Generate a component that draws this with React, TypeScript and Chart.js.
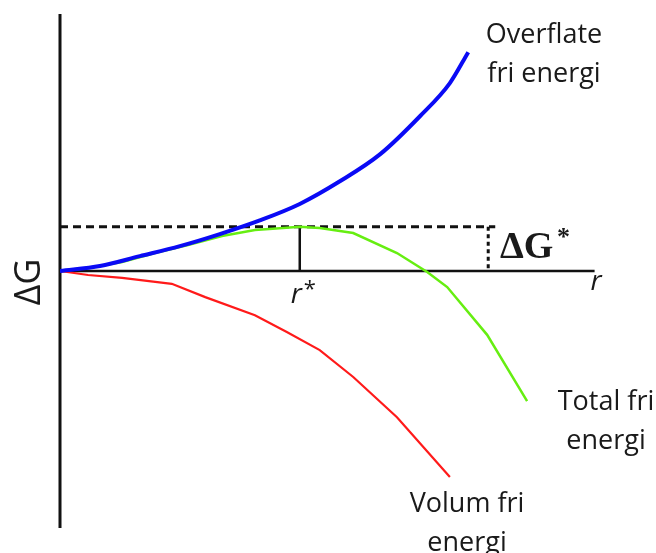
import React, { useEffect, useRef } from "react";
import { Chart, registerables } from "chart.js";

Chart.register(...registerables);

// Radius r (x) and free-energy change ΔG (y) for the three curves
const surfaceR = [0, 0.74, 1.48, 2.22, 2.96, 3.7, 4.44, 5.19, 5.93, 6.67, 7.22, 7.56];
const surfaceG = [0, 0.125, 0.37, 0.62, 0.92, 1.26, 1.67, 2.24, 2.91, 3.86, 4.68, 5.45];

const totalR = [0, 0.52, 1.15, 1.76, 2.37, 3.0, 3.61, 3.94, 4.44, 4.81, 5.43, 6.24, 6.8, 7.17, 7.91, 8.65];
const totalG = [0, 0.075, 0.224, 0.448, 0.647, 0.871, 1.02, 1.05, 1.1, 1.07, 0.946, 0.448, -0.025, -0.4, -1.59, -3.24];

const volumeR = [0, 0.52, 1.15, 2.07, 2.69, 3.61, 4.2, 4.81, 5.43, 6.24, 7.22];
const volumeG = [0, -0.1, -0.17, -0.32, -0.65, -1.1, -1.52, -1.97, -2.64, -3.64, -5.13];

// Critical radius and barrier height
const rStar = 4.44;
const gStar = 1.1;
const barrierEndR = 8.06;
const barrierMarkR = 7.93;
const rAxisEnd = 9.9;

const xRange = [0, 10];
const yRange = [-6.4, 6.4];

const curveLabels = {
  surface: ["Overflate", "fri energi"],
  total: ["Total fri", "energi"],
  volume: ["Volum fri", "energi"],
};
const yTitle = "ΔG";
const xTitle = "r";

const pts = (xs: number[], ys: number[]) => xs.map((x, i) => ({ x, y: ys[i] }));

const SANS = "'Open Sans', 'Noto Sans', sans-serif";
const SERIF = "'Liberation Serif', 'DejaVu Serif', serif";

const axesPlugin = {
  id: "axesAndLabels",
  beforeDatasetsDraw(chart: any) {
    const { ctx, chartArea, scales } = chart;
    const xs = scales.x;
    const ys = scales.y;
    const x0 = xs.getPixelForValue(0);
    const y0 = ys.getPixelForValue(0);
    ctx.save();
    ctx.strokeStyle = "#111";
    ctx.lineCap = "butt";
    // vertical ΔG axis
    ctx.lineWidth = 3;
    ctx.beginPath();
    ctx.moveTo(x0, chartArea.top);
    ctx.lineTo(x0, chartArea.bottom);
    ctx.stroke();
    // horizontal r axis
    ctx.lineWidth = 2.5;
    ctx.beginPath();
    ctx.moveTo(x0, y0);
    ctx.lineTo(xs.getPixelForValue(rAxisEnd), y0);
    ctx.stroke();
    ctx.restore();
  },
  afterDatasetsDraw(chart: any) {
    const { ctx, scales } = chart;
    const xs = scales.x;
    const ys = scales.y;
    const y0 = ys.getPixelForValue(0);
    ctx.save();
    ctx.fillStyle = "#1a1a1a";

    // curve captions
    ctx.font = `27px ${SANS}`;
    ctx.textAlign = "center";
    ctx.textBaseline = "alphabetic";
    const caption = (lines: string[], cx: number, baseline: number) => {
      lines.forEach((t, i) => ctx.fillText(t, cx, baseline + i * 39));
    };
    caption(curveLabels.surface, 544, 43);
    caption(curveLabels.total, 606, 410);
    caption(curveLabels.volume, 467, 512);

    // r axis title
    ctx.textAlign = "left";
    ctx.font = `italic 28px ${SANS}`;
    ctx.fillText(xTitle, xs.getPixelForValue(rAxisEnd) - 4, y0 + 19);

    // r* under the critical radius
    const rs = xs.getPixelForValue(rStar);
    ctx.fillText("r", rs - 9, y0 + 32);
    ctx.font = `22px ${SANS}`;
    ctx.fillText("*", rs + 4, y0 + 25);

    // ΔG* beside the barrier
    const gs = ys.getPixelForValue(gStar);
    ctx.font = `bold 38px ${SERIF}`;
    ctx.fillText("ΔG", 500, y0 - 13);
    ctx.font = `bold 26px ${SERIF}`;
    ctx.fillText("*", 557, gs + 18);

    // rotated ΔG title
    ctx.translate(29, 282);
    ctx.rotate(-Math.PI / 2);
    ctx.textAlign = "center";
    ctx.textBaseline = "middle";
    ctx.font = `36px ${SANS}`;
    ctx.fillText(yTitle, 0, 1);
    ctx.restore();
  },
};

export default function App() {
  const ref = useRef<HTMLCanvasElement | null>(null);

  useEffect(() => {
    if (!ref.current) return;
    const chart = new Chart(ref.current, {
      type: "scatter",
      data: {
        datasets: [
          {
            label: "barrier",
            data: [
              { x: 0, y: gStar },
              { x: barrierEndR, y: gStar },
            ],
            showLine: true,
            borderColor: "#111",
            borderWidth: 3,
            borderDash: [8, 5],
            pointRadius: 0,
            order: 5,
          },
          {
            label: "barrierMark",
            data: [
              { x: barrierMarkR, y: gStar },
              { x: barrierMarkR, y: 0 },
            ],
            showLine: true,
            borderColor: "#111",
            borderWidth: 3,
            borderDash: [4, 3.5],
            pointRadius: 0,
            order: 5,
          },
          {
            label: "rStar",
            data: [
              { x: rStar, y: gStar },
              { x: rStar, y: 0 },
            ],
            showLine: true,
            borderColor: "#111",
            borderWidth: 2.5,
            pointRadius: 0,
            order: 5,
          },
          {
            label: "Volum fri energi",
            data: pts(volumeR, volumeG),
            showLine: true,
            borderColor: "#ff1a1a",
            borderWidth: 2.2,
            pointRadius: 0,
            tension: 0,
            order: 3,
          },
          {
            label: "Total fri energi",
            data: pts(totalR, totalG),
            showLine: true,
            borderColor: "#66ee11",
            borderWidth: 2.5,
            pointRadius: 0,
            tension: 0,
            order: 2,
          },
          {
            label: "Overflate fri energi",
            data: pts(surfaceR, surfaceG),
            showLine: true,
            borderColor: "#0a0af5",
            borderWidth: 4,
            pointRadius: 0,
            cubicInterpolationMode: "monotone",
            order: 1,
          },
        ],
      },
      options: {
        responsive: false,
        animation: false,
        layout: { padding: { left: 60, right: 56, top: 14, bottom: 25 } },
        plugins: {
          legend: { display: false },
          tooltip: { enabled: false },
        },
        scales: {
          x: { type: "linear", min: xRange[0], max: xRange[1], display: false },
          y: { type: "linear", min: yRange[0], max: yRange[1], display: false },
        },
      } as any,
      plugins: [axesPlugin],
    });
    return () => chart.destroy();
  }, []);

  return (
    <div style={{ position: "absolute", left: 0, top: 0, width: 656, height: 553, background: "#fff" }}>
      <canvas ref={ref} width={656} height={553} />
    </div>
  );
}
